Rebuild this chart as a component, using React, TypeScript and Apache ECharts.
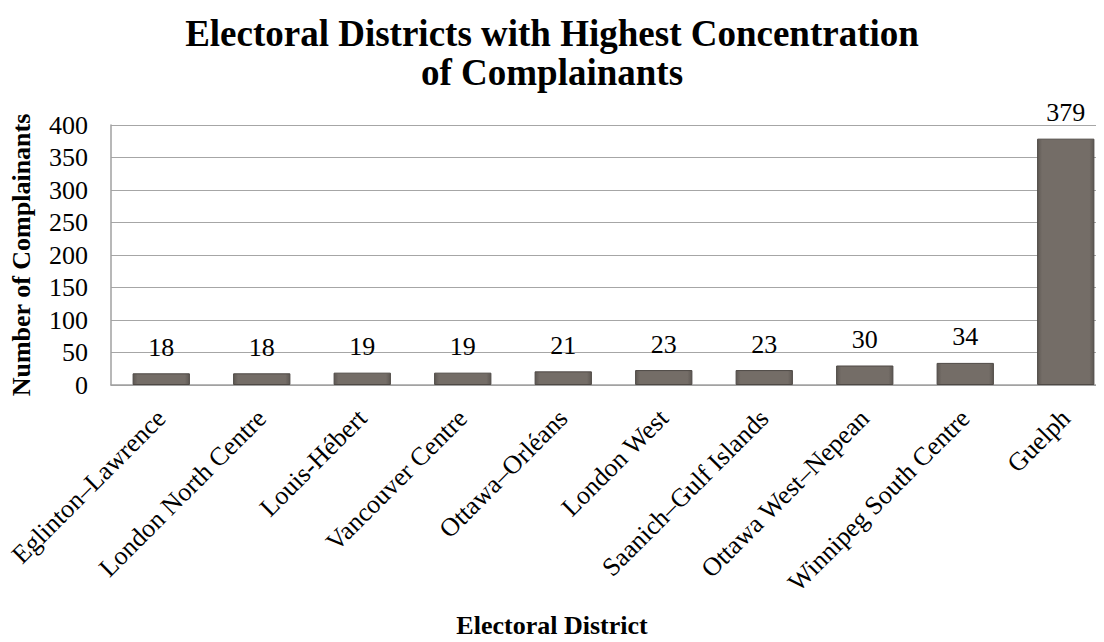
import React, { useEffect, useRef } from "react";
import * as echarts from "echarts";

const categories = [
  "Eglinton–Lawrence",
  "London North Centre",
  "Louis-Hébert",
  "Vancouver Centre",
  "Ottawa–Orléans",
  "London West",
  "Saanich–Gulf Islands",
  "Ottawa West–Nepean",
  "Winnipeg South Centre",
  "Guelph",
];
const complainants = [18, 18, 19, 19, 21, 23, 23, 30, 34, 379];
const titleLines = ["Electoral Districts with Highest Concentration", "of Complainants"];
const xAxisTitle = "Electoral District";
const yAxisTitle = "Number of Complainants";

const FONT = "'Liberation Serif', 'Times New Roman', serif";

export default function App() {
  const ref = useRef<HTMLDivElement>(null);
  useEffect(() => {
    if (!ref.current) return;
    const chart = echarts.init(ref.current, null, { renderer: "svg" });
    chart.setOption({
      animation: false,
      backgroundColor: "#ffffff",
      title: {
        text: titleLines.join("\n"),
        left: "center",
        top: 9,
        textStyle: {
          fontFamily: FONT,
          fontWeight: "bold",
          fontSize: 37,
          lineHeight: 39,
          color: "#000",
        },
      },
      graphic: [
        {
          type: "text",
          left: "center",
          top: 612,
          style: {
            text: xAxisTitle,
            font: `bold 26px ${FONT}`,
            fill: "#000",
          },
        },
      ],
      grid: {
        left: 111,
        top: 125,
        width: 1005,
        height: 260,
        containLabel: false,
        outerBoundsMode: "none",
      },
      xAxis: {
        type: "category",
        data: categories,
        axisLine: { show: true, lineStyle: { color: "#a0a0a0", width: 1.5 } },
        axisTick: { show: false },
        axisLabel: {
          rotate: 45,
          interval: 0,
          margin: 29,
          fontFamily: FONT,
          fontSize: 26,
          color: "#000",
        },
      },
      yAxis: {
        type: "value",
        min: 0,
        max: 400,
        interval: 50,
        name: yAxisTitle,
        nameLocation: "middle",
        nameGap: 77,
        nameMoveOverlap: false,
        nameTextStyle: { fontFamily: FONT, fontSize: 26, fontWeight: "bold", color: "#000" },
        axisLine: { show: true, lineStyle: { color: "#a0a0a0", width: 1.5 } },
        axisTick: { show: false },
        axisLabel: { fontFamily: FONT, fontSize: 26, color: "#000", margin: 23 },
        splitLine: { lineStyle: { color: "#a6a6a6", width: 1.2 } },
      },
      series: [
        {
          type: "bar",
          data: complainants,
          barWidth: "57%",
          itemStyle: {
            color: new echarts.graphic.LinearGradient(0, 0, 1, 0, [
              { offset: 0, color: "#5e5853" },
              { offset: 0.08, color: "#746d67" },
              { offset: 0.92, color: "#746d67" },
              { offset: 1, color: "#5e5853" },
            ]),
            borderColor: "#4e4945",
            borderWidth: 1,
          },
          label: {
            show: true,
            position: "top",
            distance: 13,
            fontFamily: FONT,
            fontSize: 26,
            color: "#000",
          },
        },
      ],
    });
    return () => chart.dispose();
  }, []);
  return <div ref={ref} style={{ width: 1104, height: 642, margin: -8 }} />;
}
